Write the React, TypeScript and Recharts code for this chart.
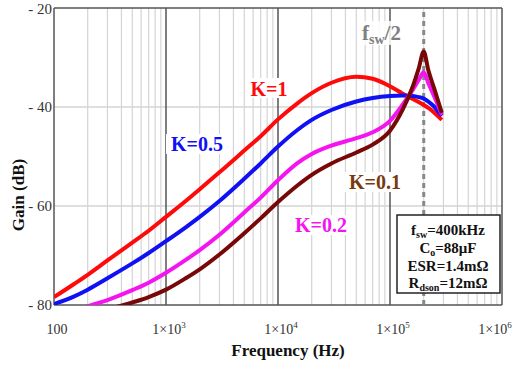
import { LineChart, Line, XAxis, YAxis, ReferenceLine } from 'recharts';

// frequency points (Hz) shared by every curve
const freqs = [100, 150, 200, 300, 500, 700, 1e3, 1.5e3, 2e3, 3e3, 5e3, 7e3, 1e4, 1.5e4, 2e4, 3e4, 5e4, 7e4, 1e5, 1.3e5, 1.6e5, 1.8e5, 2e5, 2.2e5, 2.5e5, 2.9e5];

// gain in dB
const kOne = [-78.4, -75.8, -73.9, -71.0, -67.4, -65.0, -62.2, -59.0, -56.6, -53.2, -48.8, -45.9, -42.5, -39.2, -37.2, -35.1, -33.9, -34.3, -35.8, -37.3, -38.4, -39.0, -39.6, -40.2, -41.2, -42.6];
const kHalf = [-79.8, -78.3, -76.9, -74.6, -71.6, -69.5, -67.1, -64.3, -62.2, -59.0, -54.5, -51.4, -48.0, -44.6, -42.6, -40.6, -38.9, -38.2, -37.8, -37.7, -37.8, -38.0, -38.3, -38.9, -40.0, -41.8];
const kFifth = [-83, -81.5, -80.3, -79.0, -77.0, -75.5, -73.5, -70.9, -68.9, -65.8, -61.3, -58.3, -54.8, -51.3, -49.5, -47.8, -46.3, -45.1, -42.8, -39.5, -36.5, -34.6, -33.0, -35.2, -38.0, -41.6];
const kTenth = [-86, -84.5, -83, -81, -79.5, -78.4, -76.9, -74.6, -72.8, -69.8, -65.5, -62.5, -59.2, -55.8, -53.7, -51.4, -49.2, -47.6, -44.8, -40.5, -35.8, -32.3, -28.8, -32.6, -36.5, -41.2];

const xTicks = [100, 1e3, 1e4, 1e5, 1e6];
const yTicks = [-80, -60, -40, -20];
const majorLines = [1e3, 1e4, 1e5];
const minorLines = [100, 1e3, 1e4, 1e5].flatMap((d) => [2, 3, 4, 5, 6, 7, 8, 9].map((m) => m * d));
const fswHalf = 2e5;

const data = freqs.map((f, i) => ({
  f,
  k1: kOne[i],
  k05: kHalf[i],
  k02: kFifth[i],
  k01: kTenth[i],
}));

const FONT = '"Liberation Serif", "Times New Roman", serif';

const XTick = (props: any) => {
  const { x, y, payload } = props;
  const v = payload.value;
  const exp = Math.round(Math.log10(v));
  return (
    <text x={x + 3} y={y + 21} textAnchor="middle" fontFamily={FONT} fontSize={14} fill="#333">
      {exp === 2 ? (
        '100'
      ) : (
        <>
          1×10<tspan dy={-6} fontSize={9}>{exp}</tspan>
        </>
      )}
    </text>
  );
};

const YTick = (props: any) => {
  const { x, y, payload } = props;
  return (
    <text x={x + 6} y={y + 5} textAnchor="end" fontFamily={FONT} fontSize={15} fill="#333">
      {'- ' + Math.abs(payload.value)}
    </text>
  );
};

const labelBox = (x: number, y: number, w: number, h: number, fill = '#fff') => (
  <rect x={x} y={y} width={w} height={h} fill={fill} />
);

export default function App() {
  return (
    <div style={{ position: 'absolute', left: 0, top: 0, width: 520, height: 367, background: '#fff' }}>
      <LineChart width={520} height={367} data={data} margin={{ top: 8, right: 18, left: 0, bottom: 0 }}>
        <XAxis
          dataKey="f"
          type="number"
          scale="log"
          domain={[100, 1e6]}
          ticks={xTicks}
          allowDataOverflow
          height={62}
          axisLine={false}
          tickLine={false}
          tick={<XTick />}
        />
        <YAxis
          type="number"
          domain={[-80, -20]}
          ticks={yTicks}
          allowDataOverflow
          width={54}
          axisLine={false}
          tickLine={false}
          tick={<YTick />}
        />
        {minorLines.map((v) => (
          <ReferenceLine key={'m' + v} x={v} stroke="#d4d4d4" strokeWidth={1.2} />
        ))}
        <ReferenceLine y={-40} stroke="#d4d4d4" strokeWidth={1.5} />
        <ReferenceLine y={-60} stroke="#d4d4d4" strokeWidth={1.5} />
        {majorLines.map((v) => (
          <ReferenceLine key={'M' + v} x={v} stroke="#555" strokeWidth={1.5} />
        ))}
        <ReferenceLine x={100} stroke="#555" strokeWidth={1.5} />
        <ReferenceLine x={1e6} stroke="#555" strokeWidth={1.5} />
        <ReferenceLine y={-20} stroke="#555" strokeWidth={1.5} />
        <ReferenceLine y={-80} stroke="#555" strokeWidth={1.5} />
        <ReferenceLine x={fswHalf} stroke="#888" strokeWidth={3} strokeDasharray="5 4" />
        <Line dataKey="k1" type="monotone" stroke="#ff0a0a" strokeWidth={4} dot={false} isAnimationActive={false} />
        <Line dataKey="k05" type="monotone" stroke="#1010f5" strokeWidth={4} dot={false} isAnimationActive={false} />
        <Line dataKey="k02" type="monotone" stroke="#f514f0" strokeWidth={4} dot={false} isAnimationActive={false} />
        <Line dataKey="k01" type="monotone" stroke="#780808" strokeWidth={4} dot={false} isAnimationActive={false} />
      </LineChart>
      <svg
        width={520}
        height={367}
        style={{ position: 'absolute', left: 0, top: 0, pointerEvents: 'none' }}
        fontFamily={FONT}
        fontWeight="bold"
      >
        {labelBox(360, 21, 50, 24, 'rgba(255,255,255,0.85)')}
        <text x={362} y={40} fontSize={21} fill="#808080">
          f<tspan fontSize={14} dy={4}>sw</tspan>
          <tspan dy={-4}>/2</tspan>
        </text>

        {labelBox(246, 78, 46, 20)}
        <text x={269} y={96} textAnchor="middle" fontSize={20} fill="#ff0a0a">K=1</text>
        {labelBox(166, 134, 62, 20)}
        <text x={197} y={151} textAnchor="middle" fontSize={20} fill="#1010f5">K=0.5</text>
        {labelBox(290, 215, 62, 20)}
        <text x={321} y={232} textAnchor="middle" fontSize={20} fill="#f514f0">K=0.2</text>
        {labelBox(344, 172, 62, 20)}
        <text x={375} y={189} textAnchor="middle" fontSize={20} fill="#7a3a10">K=0.1</text>

        <rect x={397} y={215} width={103} height={78} fill="#fff" stroke="#222" strokeWidth={1.5} />
        <g fontSize={15} fill="#111" textAnchor="middle">
          <text x={448} y={235}>
            f<tspan fontSize={10} dy={3}>sw</tspan>
            <tspan dy={-3}>=400kHz</tspan>
          </text>
          <text x={448} y={253}>
            C<tspan fontSize={10} dy={3}>o</tspan>
            <tspan dy={-3}>=88μF</tspan>
          </text>
          <text x={448} y={271}>ESR=1.4mΩ</text>
          <text x={448} y={288}>
            R<tspan fontSize={10} dy={3}>dson</tspan>
            <tspan dy={-3}>=12mΩ</tspan>
          </text>
        </g>

        <text x={288} y={356} textAnchor="middle" fontSize={17} fill="#111">Frequency (Hz)</text>
        <text x={24} y={195} textAnchor="middle" fontSize={17} fill="#111" transform="rotate(-90 24 195)">
          Gain (dB)
        </text>
      </svg>
    </div>
  );
}
